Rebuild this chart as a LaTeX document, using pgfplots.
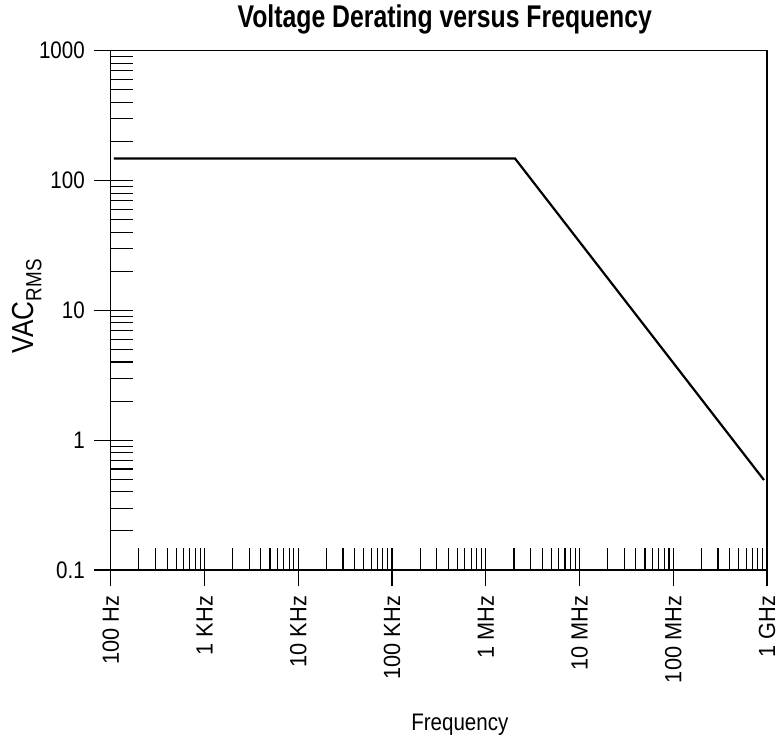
\documentclass[border=0pt]{standalone}
\usepackage{fontspec}
\setmainfont{Liberation Sans}[FakeStretch=0.86]
\newfontfamily\titlefont{Liberation Sans}[FakeStretch=0.79]
\newfontfamily\xtickfont{Liberation Sans}[FakeStretch=0.93]
\usepackage{pgfplots}
\pgfplotsset{compat=1.18}
\begin{document}
\begin{tikzpicture}
% inner ticks, frame and data
\begin{axis}[
  at={(0bp,0bp)}, anchor=south west,
  scale only axis, width=656.3bp, height=519.3bp,
  xmode=log, ymode=log,
  xmin=1e2, xmax=1e9, ymin=0.1, ymax=1000,
  xtick={1e2,1e3,1e4,1e5,1e6,1e7,1e8,1e9},
  ytick={0.1,1,10,100,1000},
  xticklabels={}, yticklabels={},
  tick align=inside, tick pos=left,
  major tick length=22bp, minor tick length=22bp,
  axis line style={line width=1.4bp},
  every tick/.style={black, line width=1.1bp},
]
\addplot[black, line width=2.2bp, line join=miter] coordinates {
  (108,148) (2.05e6,148) (9.29e8,0.493)
};
\end{axis}
% outward major ticks and all labels
\begin{axis}[
  at={(0bp,0bp)}, anchor=south west,
  scale only axis, width=656.3bp, height=519.3bp,
  xmode=log, ymode=log,
  xmin=1e2, xmax=1e9, ymin=0.1, ymax=1000,
  xtick={1e2,1e3,1e4,1e5,1e6,1e7,1e8,1e9},
  ytick={0.1,1,10,100,1000},
  xticklabels={100 Hz,1 KHz,10 KHz,100 KHz,1 MHz,10 MHz,100 MHz,1 GHz},
  yticklabels={0.1,1,10,100,1000},
  xminorticks=false, yminorticks=false,
  tick align=outside, tick pos=left,
  major tick length=16.5bp,
  axis line style={draw=none},
  every tick/.style={black, line width=1.1bp},
  tick label style={font=\fontsize{24}{28}\selectfont, inner ysep=0pt, inner xsep=9.5bp, outer sep=0pt},
  xticklabel style={font=\xtickfont\fontsize{23.5}{28}\selectfont, rotate=90, anchor=east},
  title={Voltage Derating versus Frequency},
  title style={font=\titlefont\bfseries\fontsize{31.5}{36}\selectfont,
    at={(axis description cs:0.509,1.034)}, anchor=base},
  xlabel={Frequency},
  xlabel style={font=\fontsize{24}{28}\selectfont,
    at={(axis description cs:0.532,-0.3095)}, anchor=base},
  ylabel={VAC\raisebox{-8bp}{\fontsize{22}{24}\selectfont RMS}},
  ylabel style={font=\fontsize{30.5}{34}\selectfont,
    at={(axis description cs:-0.1179,0.508)}, anchor=base},
]
\end{axis}
\pgfresetboundingbox
\path (-110.7bp,-170bp) rectangle (672.3bp,570bp);
\end{tikzpicture}
\end{document}
